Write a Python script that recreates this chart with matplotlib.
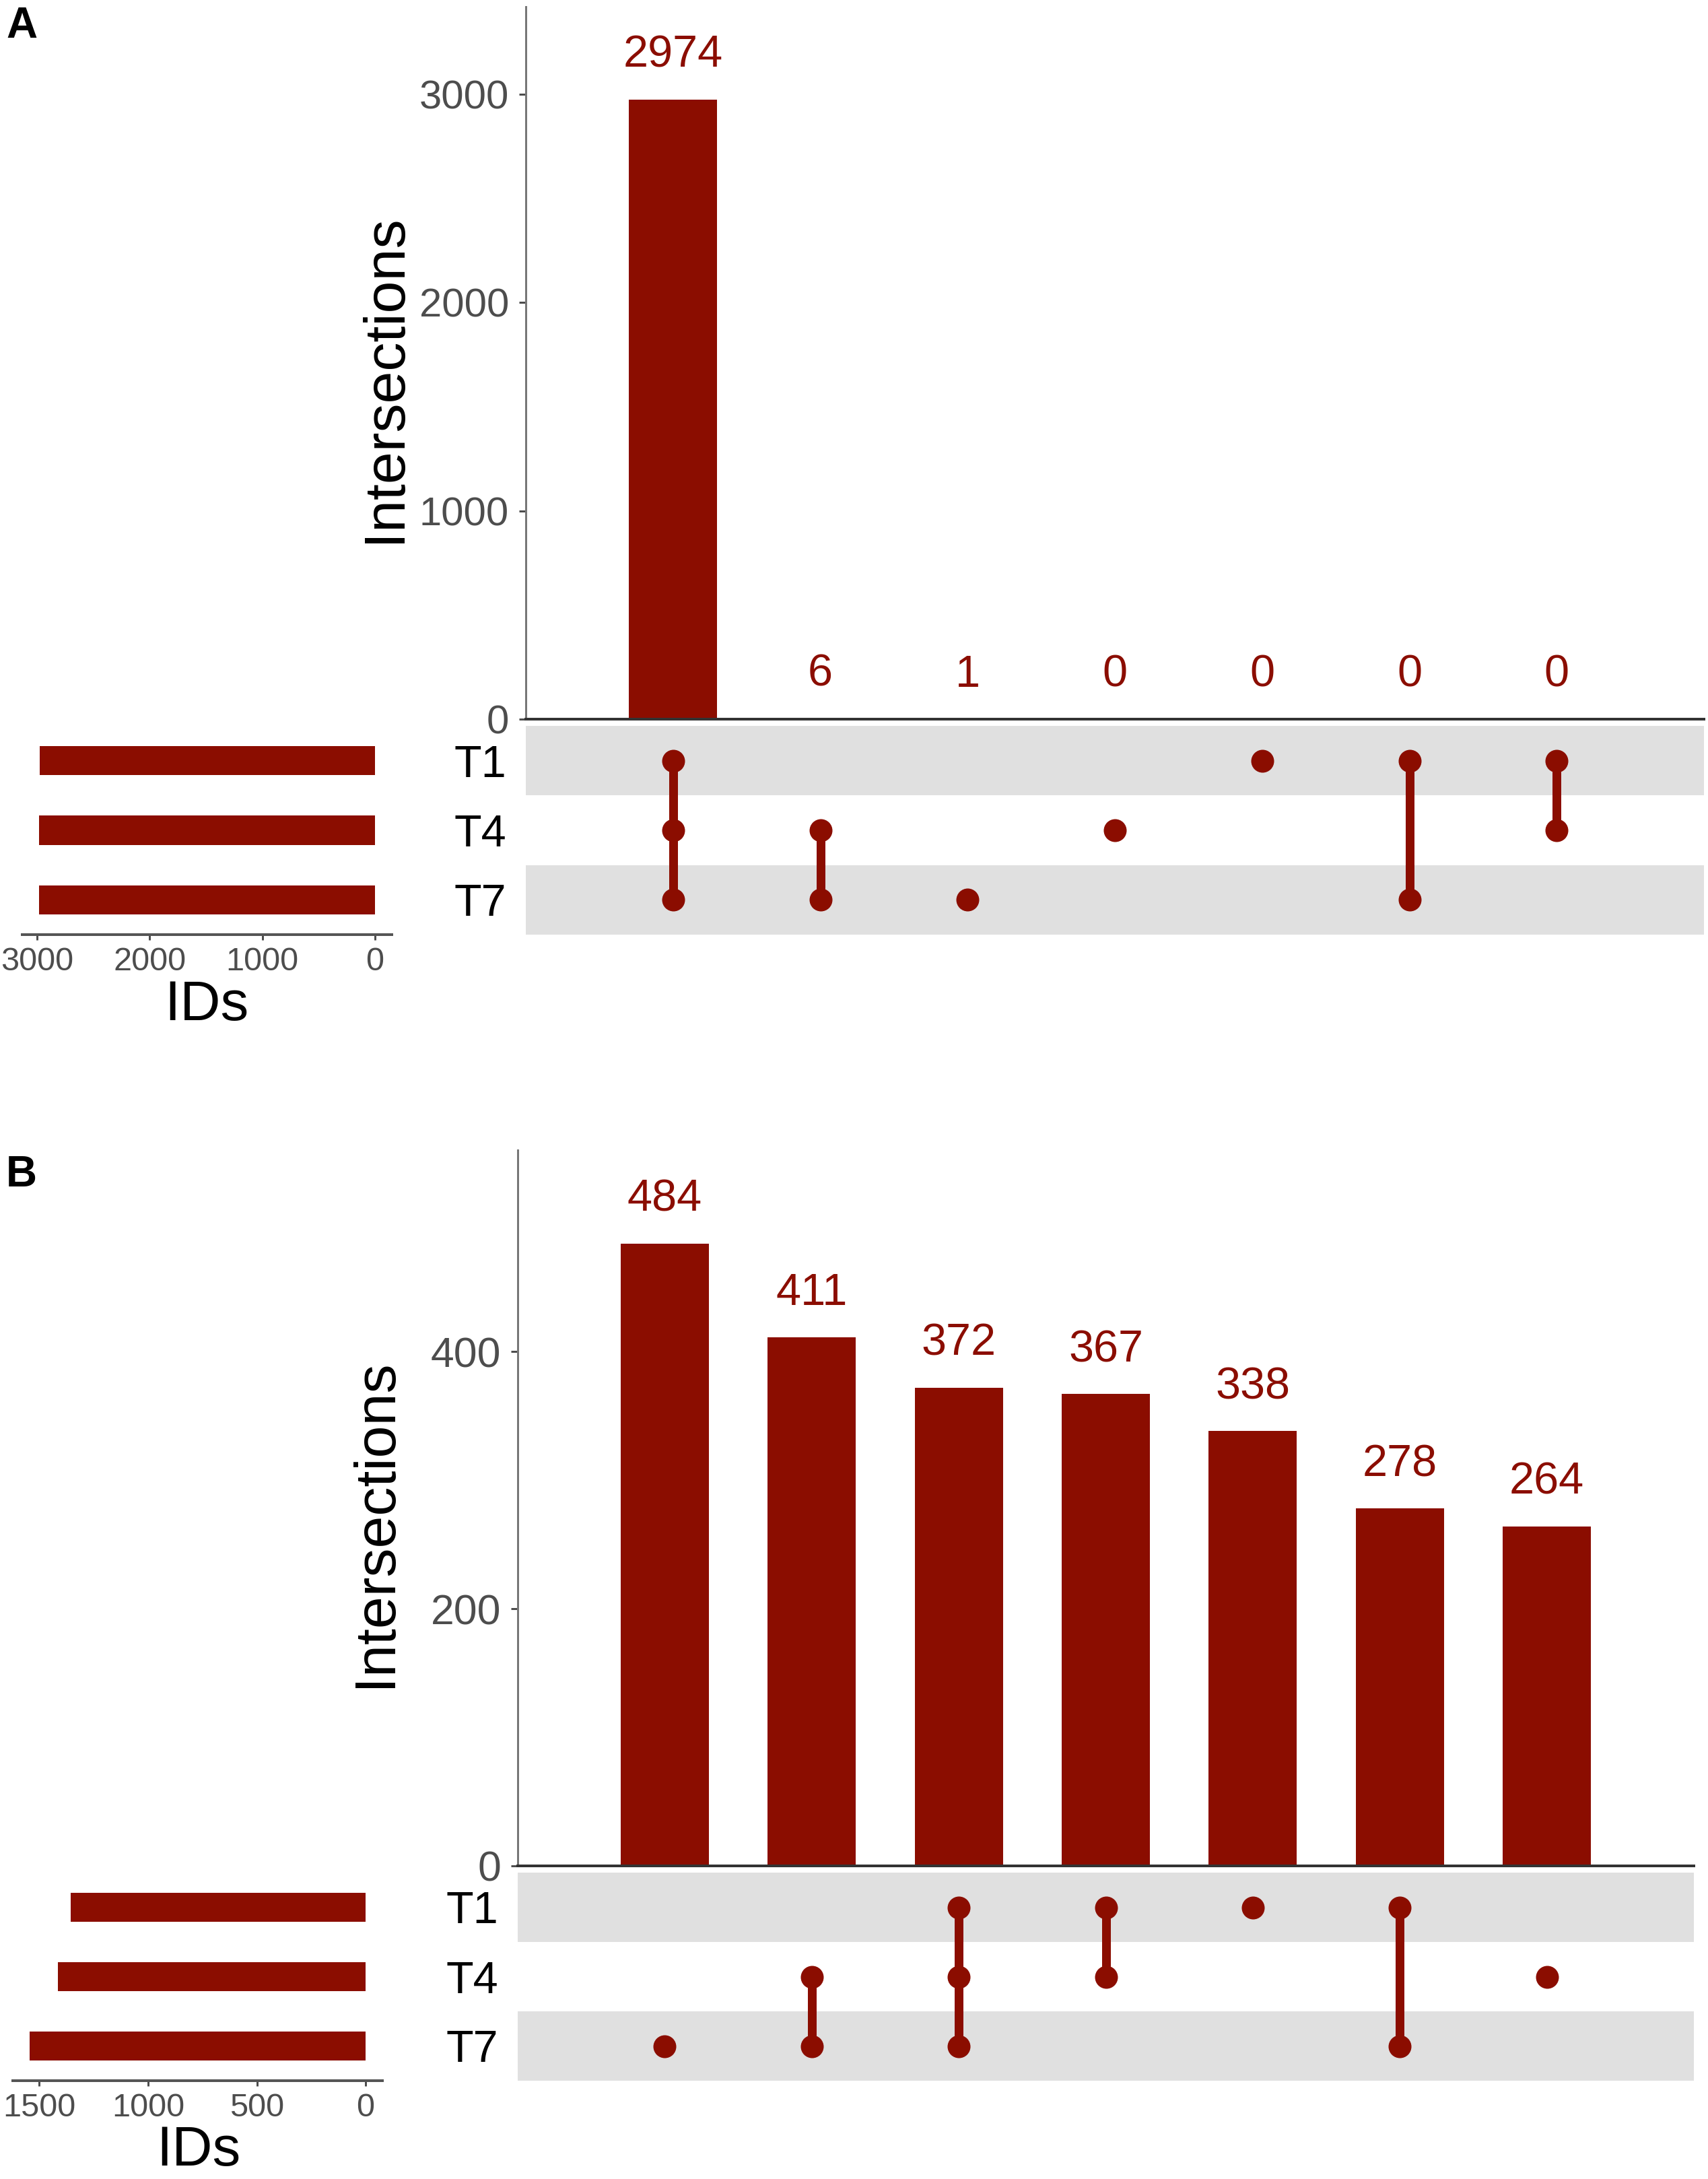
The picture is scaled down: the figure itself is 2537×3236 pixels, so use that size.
import matplotlib
matplotlib.use('Agg')
import matplotlib.pyplot as plt

plt.rcParams['font.family'] = ['Liberation Sans', 'DejaVu Sans']

# ---------------- data ----------------
sets = ['T1', 'T4', 'T7']

a_counts = [2974, 6, 1, 0, 0, 0, 0]
a_members = [['T1', 'T4', 'T7'], ['T4', 'T7'], ['T7'], ['T4'], ['T1'], ['T1', 'T7'], ['T1', 'T4']]
a_set_sizes = [2974, 2980, 2981]
a_yticks = [0, 1000, 2000, 3000]
a_size_ticks = [3000, 2000, 1000, 0]

b_counts = [484, 411, 372, 367, 338, 278, 264]
b_members = [['T7'], ['T4', 'T7'], ['T1', 'T4', 'T7'], ['T1', 'T4'], ['T1'], ['T1', 'T7'], ['T4']]
b_set_sizes = [1355, 1414, 1545]
b_yticks = [0, 200, 400]
b_size_ticks = [1500, 1000, 500, 0]

# ---------------- style ----------------
W, H = 2537, 3236
DPI = 200
RED = '#8B0D00'
STRIPE = '#E0E0E0'
GRAY = '#4D4D4D'
AXIS = '#333333'
PX = 72.0 / DPI  # points per pixel

fig = plt.figure(figsize=(W / DPI, H / DPI), dpi=DPI)


def add_ax(left, top, right, bottom):
    return fig.add_axes([left / W, 1 - bottom / H, (right - left) / W, (bottom - top) / H])


row_of = {'T1': 2, 'T4': 1, 'T7': 0}


def panel(counts, members, set_sizes, yticks, size_ticks, box, tick_fs):
    bx_l, bx_r, b_top, b_bot, m_top, m_bot, s_l, s_r, ylab_xy, ids_xy = box
    n = len(counts)
    xs = list(range(1, n + 1))

    # ---- intersection bars ----
    ax = add_ax(bx_l, b_top, bx_r, b_bot)
    ax.bar(xs, counts, width=0.6, color=RED)
    ax.set_xlim(0, n + 1)
    ax.set_ylim(0, max(counts) * 1.15)
    for s in ['top', 'right']:
        ax.spines[s].set_visible(False)
    ax.spines['left'].set_color('#777777')
    ax.spines['left'].set_linewidth(3 * PX)
    ax.spines['bottom'].set_color(AXIS)
    ax.spines['bottom'].set_linewidth(4 * PX)
    ax.set_xticks([])
    ax.set_yticks(yticks)
    ax.tick_params(axis='y', labelsize=tick_fs, colors=GRAY, length=10 * PX,
                   width=3 * PX, pad=15 * PX)
    for x, c in zip(xs, counts):
        ax.annotate(str(c), (x, c), xytext=(0, 48 * PX), textcoords='offset points',
                    ha='center', va='baseline', color=RED, fontsize=24)
    fig.text(ylab_xy[0] / W, 1 - ylab_xy[1] / H, 'Intersections', rotation=90,
             ha='center', va='center', fontsize=31, color='black')

    # ---- matrix ----
    mx = add_ax(bx_l, m_top, bx_r, m_bot)
    mx.set_xlim(0, n + 1)
    mx.set_ylim(-0.5, 2.5)
    mx.axhspan(1.5, 2.5, color=STRIPE, lw=0)
    mx.axhspan(-0.5, 0.5, color=STRIPE, lw=0)
    for x, mem in zip(xs, members):
        ys = [row_of[m] for m in mem]
        if len(ys) > 1:
            mx.plot([x, x], [min(ys), max(ys)], color=RED, lw=13 * PX,
                    solid_capstyle='butt', zorder=2)
        mx.plot([x] * len(ys), ys, 'o', color=RED, markersize=34 * PX,
                markeredgewidth=0, zorder=3)
    for s in mx.spines.values():
        s.set_visible(False)
    mx.set_xticks([])
    mx.set_yticks([row_of[s] for s in sets])
    mx.set_yticklabels(sets)
    mx.tick_params(axis='y', length=0, labelsize=24, colors='black', pad=29 * PX)

    # ---- set sizes ----
    sx = add_ax(s_l, m_top, s_r, m_bot)
    sx.barh([row_of[s] for s in sets], set_sizes, height=0.42, color=RED)
    mx_size = max(set_sizes)
    sx.set_xlim(mx_size * 1.05, -mx_size * 0.05)
    sx.set_ylim(-0.5, 2.5)
    for s in ['top', 'right', 'left']:
        sx.spines[s].set_visible(False)
    sx.spines['bottom'].set_color('#555555')
    sx.spines['bottom'].set_linewidth(4 * PX)
    sx.set_yticks([])
    sx.set_xticks(size_ticks)
    sx.tick_params(axis='x', labelsize=17.5, colors=GRAY, length=8 * PX,
                   width=3 * PX, pad=10 * PX)
    fig.text(ids_xy[0] / W, 1 - ids_xy[1] / H, 'IDs', ha='center', va='center',
             fontsize=30, color='black')


panel(a_counts, a_members, a_set_sizes, a_yticks, a_size_ticks,
      (781, 2531, 10, 1068, 1078, 1388, 33, 582, (572, 562), (307, 1493)), 21.5)
panel(b_counts, b_members, b_set_sizes, b_yticks, b_size_ticks,
      (769, 2516, 1708, 2771, 2781, 3090, 19, 568, (558, 2262), (295, 3194)), 22.5)

fig.text(9 / W, 1 - 9 / H, 'A', ha='left', va='top', fontsize=23, fontweight='bold')
fig.text(9 / W, 1 - 1715 / H, 'B', ha='left', va='top', fontsize=23, fontweight='bold')

fig.savefig('out.png', dpi=DPI)
